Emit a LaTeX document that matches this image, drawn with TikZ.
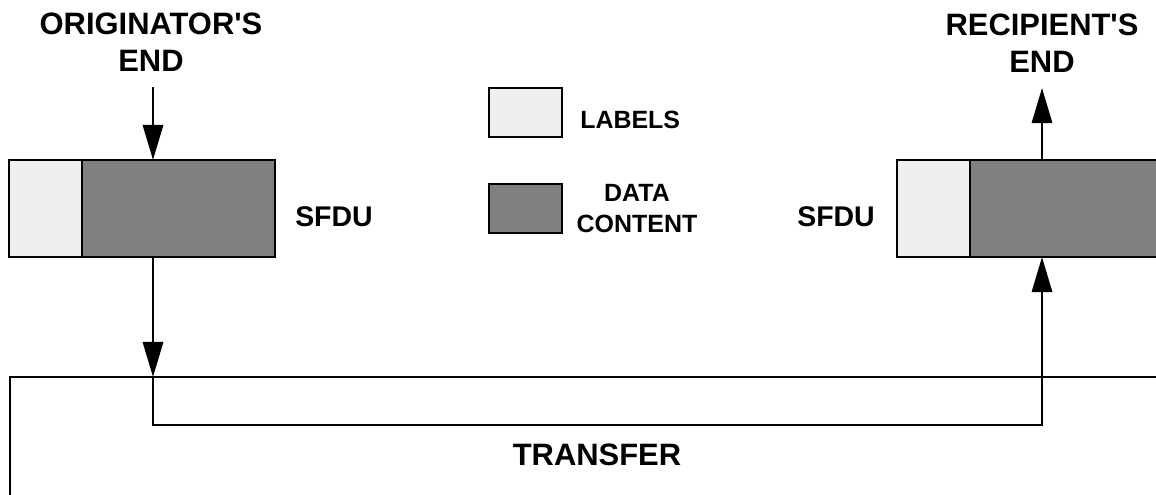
\documentclass[tikz,border=0pt]{standalone}
\usepackage{fontspec}
\setmainfont{Liberation Sans}
\usetikzlibrary{arrows.meta}
\definecolor{lblfill}{HTML}{EFEFEF}
\definecolor{datafill}{HTML}{808080}
\begin{document}
\begin{tikzpicture}[x=0.02cm, y=-0.02cm, line width=1.6pt,
    lblpart/.style = {draw, fill=lblfill, inner sep=0pt, outer sep=0pt, minimum width=1.46cm, minimum height=1.94cm},
    datapart/.style = {draw, fill=datafill, inner sep=0pt, outer sep=0pt, minimum width=3.86cm, minimum height=1.94cm},
    arr/.style = {-{Triangle[length=20pt, width=11.5pt]}},
    title/.style = {font=\bfseries\fontsize{17.6}{21}\selectfont, align=center, anchor=base},
    legtext/.style = {font=\bfseries\fontsize{14.2}{17.6}\selectfont, align=center, anchor=base}]

        \useasboundingbox (0,0) rectangle (1156,494);
        \clip (0,0) rectangle (1156,494);

        % originator's side
        \node[lblpart, anchor=north west] (oLab) at (9,160) {};
        \node[datapart, anchor=west] (oData) at (oLab.east) {};
        \node[title] (oTitle) at (151,71) {ORIGINATOR\textquotesingle S\\END};
        \node[title, font=\bfseries\fontsize{16.2}{19}\selectfont] (oName) at (334,226) {SFDU};

        % recipient's side
        \node[lblpart, anchor=north west] (rLab) at (897,160) {};
        \node[datapart, anchor=west, minimum width=5cm] (rData) at (rLab.east) {};
        \node[title] (rTitle) at (1042,72) {RECIPIENT\textquotesingle S\\END};
        \node[title, font=\bfseries\fontsize{16.2}{19}\selectfont] (rName) at (836,226) {SFDU};

        % legend
        \node[lblpart, minimum height=0.98cm] (kLab) at (525.5,112.5) {};
        \node[datapart, minimum width=1.46cm, minimum height=0.98cm] (kData) at (525.5,208.5) {};
        \node[legtext, anchor=base west] (kLabText) at (573,128) {LABELS};
        \node[legtext] (kDataText) at (637,232) {DATA\\CONTENT};

        % transfer
        \coordinate (oIn) at (153,87);
        \coordinate (tL) at (153,377);
        \coordinate (tB) at (153,425);
        \coordinate (tR) at (1042,425);
        \coordinate (rOut) at (1042,88);
        \coordinate (fTL) at (10,377);
        \draw (10,520) -- (fTL) -- (1200,377);
        \node[title] (tText) at (597,465) {TRANSFER};

        \draw[arr] (oIn) -- (oIn |- oData.north);
        \draw[arr] (oData.south -| tL) -- (tL);
        \draw[arr] (tL) -- (tB) -- (tR) -- (tR |- rData.south);
        \draw[arr] (rOut |- rData.north) -- (rOut);

\end{tikzpicture}
\end{document}
